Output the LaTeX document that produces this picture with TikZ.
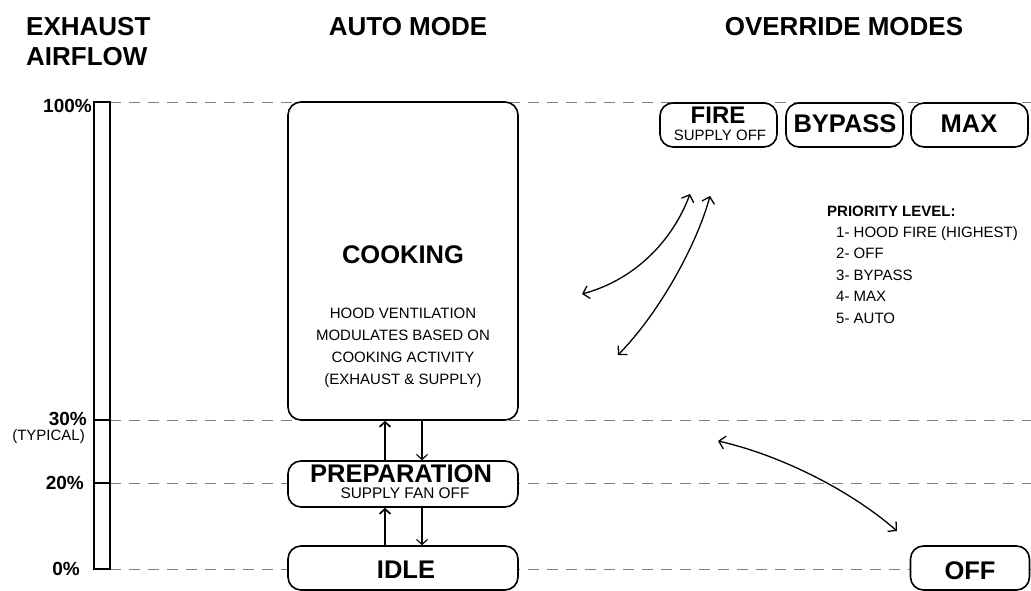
\documentclass[tikz,border=0pt]{standalone}
\usepackage{fontspec}
\setmainfont{Liberation Sans}
\usetikzlibrary{arrows.meta,positioning}
\tikzset{mode box/.style={draw,rounded corners=13pt,line width=1.6pt,fill=white,inner sep=0pt},
         level line/.style={gray,dash pattern=on 11pt off 8pt,line width=0.8pt},
         head text/.style={font=\bfseries\fontsize{26}{30}\selectfont,inner sep=0pt},
         mode text/.style={font=\bfseries\fontsize{25.5}{30}\selectfont,inner sep=0pt,anchor=base},
         note text/.style={font=\fontsize{15}{18}\selectfont,inner sep=0pt},
         pct text/.style={font=\bfseries\fontsize{19}{21}\selectfont,inner sep=0pt,anchor=east},
         step arrow/.style={-{Straight Barb[length=5pt,width=11pt]},line width=1.1pt},
         swap arrow/.style={{Straight Barb[length=6pt,width=13pt]}-{Straight Barb[length=6pt,width=13pt]},line width=1.3pt},
}

\begin{document}
\begin{tikzpicture}[x=1pt,y=-1pt]

\useasboundingbox (0,0) rectangle (1031,591);
% \draw[help lines] (0,0) grid[step=50] (1031,591);

% headings
\node[head text,anchor=base west] (exhaust head) at (26,36) {EXHAUST};
\node[head text,anchor=base west] (airflow head) at (26,66) {AIRFLOW};
\node[head text,anchor=base] (auto head) at (408,36) {AUTO MODE};
\node[head text,anchor=base] (override head) at (844,36) {OVERRIDE MODES};

% airflow scale
\draw[level line] (110,102) -- (1031,102);
\draw[level line] (110,420) -- (1031,420);
\draw[level line] (110,483) -- (1031,483);
\draw[level line] (110,569) -- (1031,569);
\draw[line width=1.6pt] (94,102) rectangle (110,569);
\draw[line width=1.6pt] (94,420) -- (110,420);
\draw[line width=1.6pt] (94,483) -- (110,483);
\node[pct text] (pct100) at (92,106) {100\%};
\node[pct text] (pct30) at (87,419) {30\%};
\node[note text,anchor=base east] (typical) at (85,440) {(TYPICAL)};
\node[pct text] (pct20) at (84,483) {20\%};
\node[pct text] (pct0) at (80,569) {0\%};

% auto mode
\node[mode box,minimum width=230pt,minimum height=318pt] (cooking) at (403,261) {};
\node[mode text] (cooking title) at (403,263) {COOKING};
\foreach \txt [count=\i] in {HOOD VENTILATION,MODULATES BASED ON,COOKING ACTIVITY,{(EXHAUST \& SUPPLY)}}
    \node[note text,anchor=base] (cooking line \i) at (403,296+22*\i) {\txt};

\node[mode box,minimum width=230pt,minimum height=46pt] (prep) at (403,484) {};
\node[mode text] (prep title) at (401,482.5) {PREPARATION};
\node[note text,anchor=base,font=\fontsize{15.4}{18}\selectfont] (prep note) at (405,498.5) {SUPPLY FAN OFF};

\node[mode box,minimum width=230pt,minimum height=44pt] (idle) at (403,568) {};
\node[mode text] (idle title) at (406,578) {IDLE};

\draw[step arrow,line width=1.7pt] ([xshift=-18pt]prep.north) -- ([xshift=-18pt]cooking.south);
\draw[step arrow] ([xshift=19pt]cooking.south) -- ([xshift=19pt]prep.north);
\draw[step arrow,line width=1.7pt] ([xshift=-18pt]idle.north) -- ([xshift=-18pt]prep.south);
\draw[step arrow] ([xshift=19pt]prep.south) -- ([xshift=19pt]idle.north);

% override modes
\node[mode box,minimum width=117pt,minimum height=44pt] (fire) at (718.5,125) {};
\node[mode text,font=\bfseries\fontsize{24}{28}\selectfont] (fire title) at (718,124) {FIRE};
\node[note text,anchor=base] (fire note) at (720,140.5) {SUPPLY OFF};
\node[mode box,minimum width=117pt,minimum height=44pt] (bypass) at (844.5,125) {};
\node[mode text] (bypass title) at (845,133) {BYPASS};
\node[mode box,minimum width=117pt,minimum height=44pt] (max) at (969.5,125) {};
\node[mode text] (max title) at (969,133) {MAX};
\node[mode box,minimum width=119pt,minimum height=44pt] (off) at (970,568) {};
\node[mode text] (off title) at (970,579) {OFF};

% priority
\node[note text,font=\bfseries\fontsize{15}{18}\selectfont,anchor=base west] (priority) at (827,216) {PRIORITY LEVEL:};
\foreach \txt [count=\i] in {1- HOOD FIRE (HIGHEST),2- OFF,3- BYPASS,4- MAX,5- AUTO}
    \node[note text,anchor=base west] (priority \i) at (836,215.5+21.5*\i) {\txt};

% transitions
\coordinate (swap a1) at (582,294);
\coordinate (swap a2) at (690,194);
\coordinate (swap b1) at (618,355);
\coordinate (swap b2) at (710,196);
\coordinate (swap c1) at (718,441);
\coordinate (swap c2) at (897,531);
\draw[swap arrow] (swap a1) .. controls (634,280) and (672,242) .. (swap a2);
\draw[swap arrow] (swap b1) .. controls (660,312) and (697,244) .. (swap b2);
\draw[swap arrow] (swap c1) .. controls (780,455) and (850,490) .. (swap c2);
\end{tikzpicture}
\end{document}
